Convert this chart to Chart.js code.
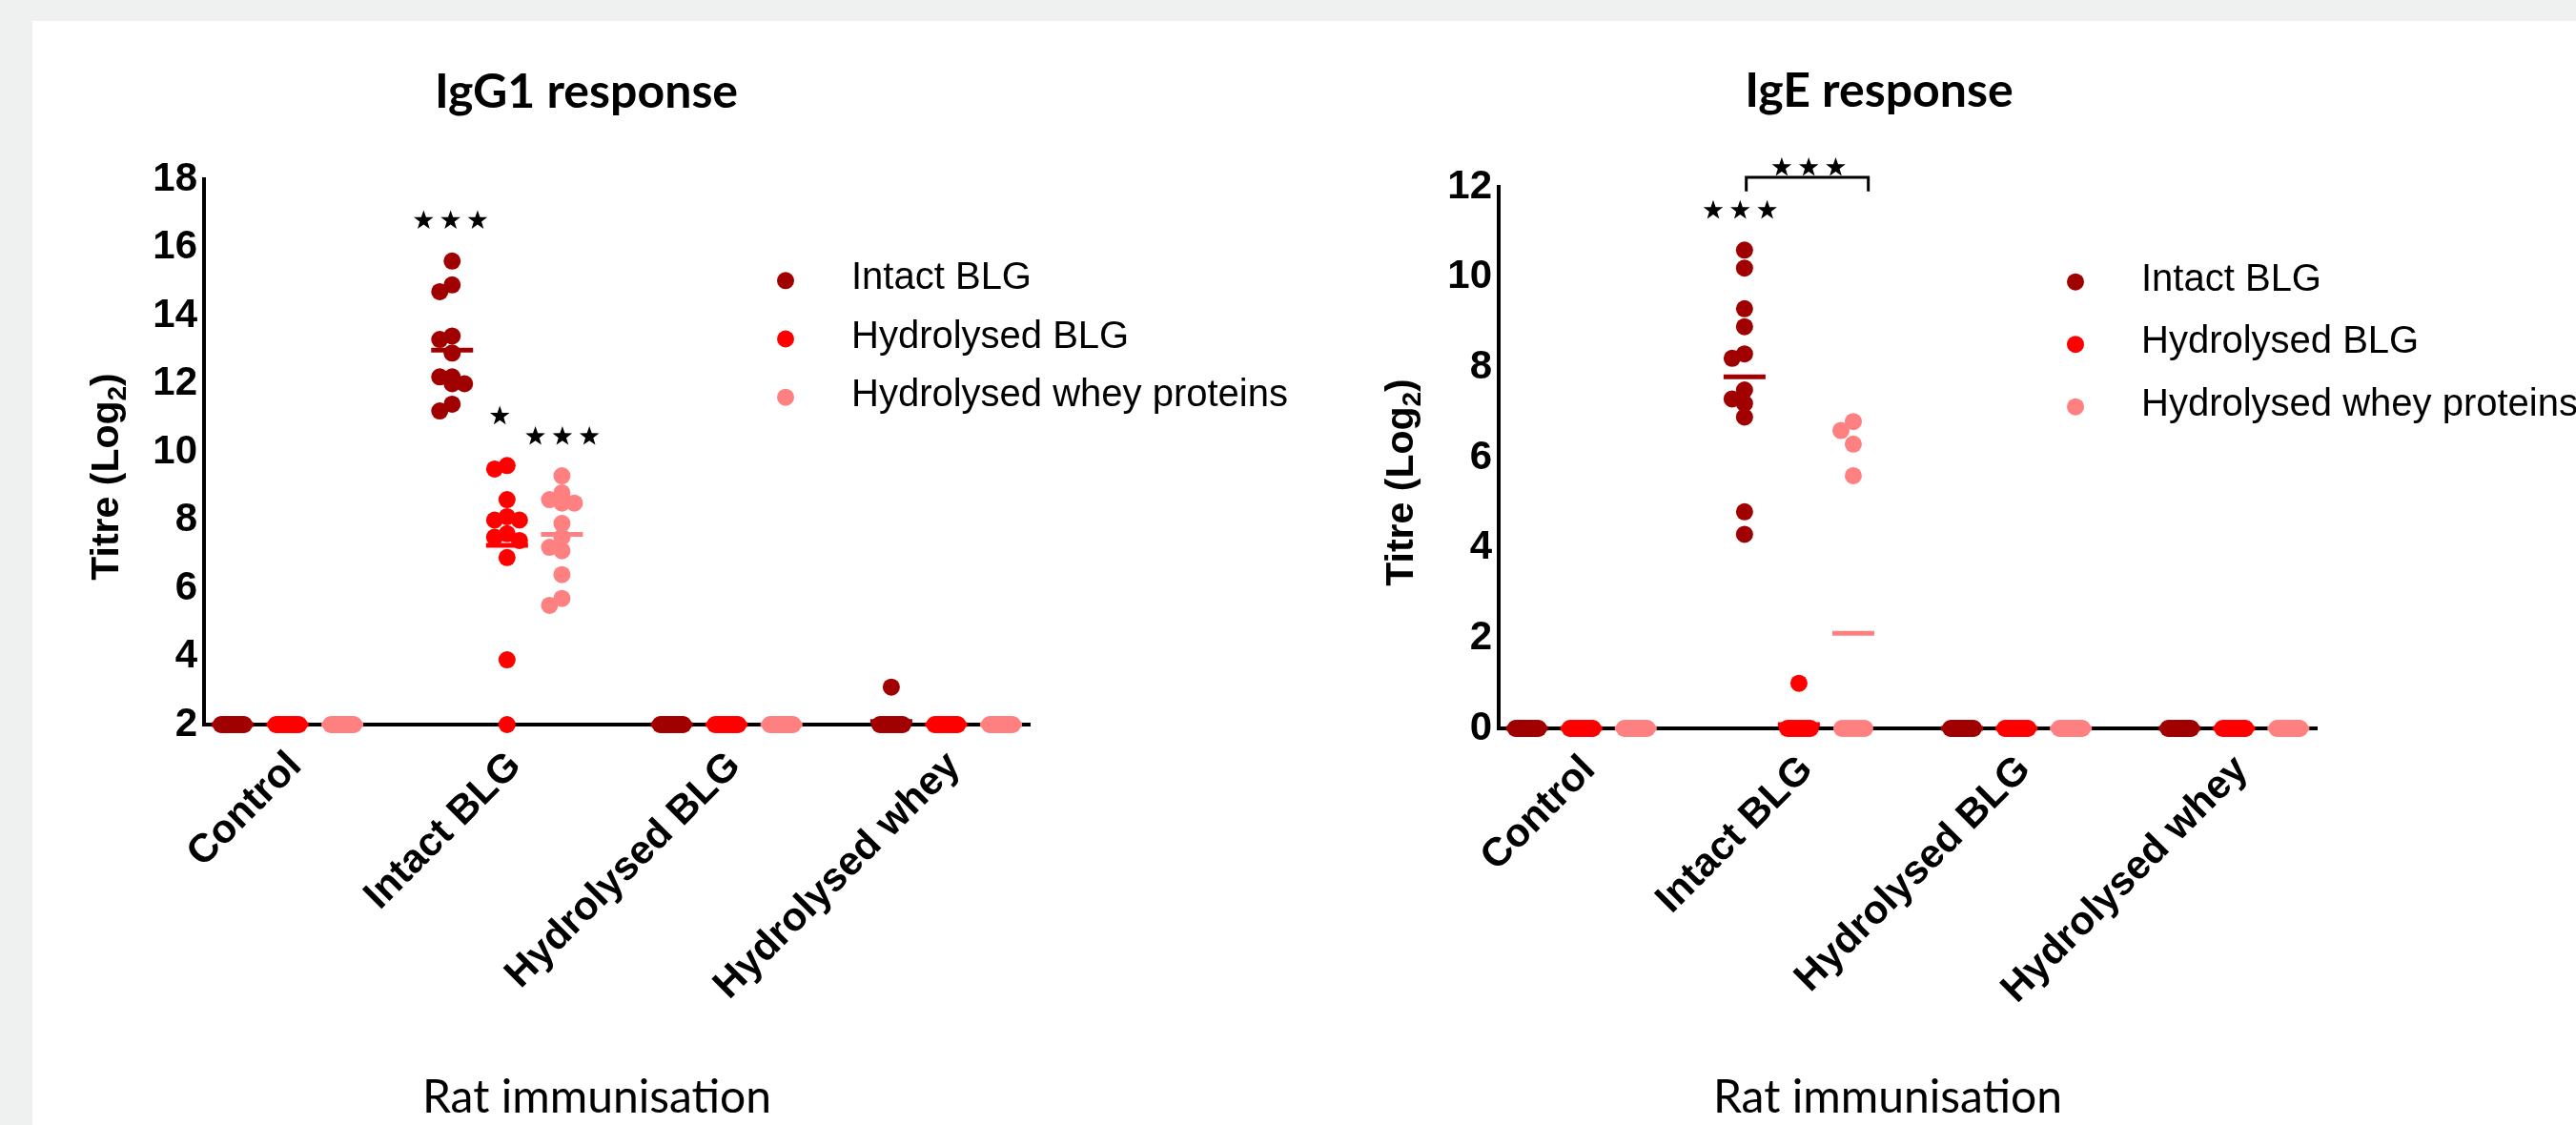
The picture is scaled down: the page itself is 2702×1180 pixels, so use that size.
<!DOCTYPE html>
<html>
<head>
<meta charset="utf-8">
<script src="https://cdn.jsdelivr.net/npm/chart.js@4.4.0/dist/chart.umd.min.js"></script>
<style>
  html, body { margin: 0; padding: 0; background: #eff0f0; }
  #panel { position: absolute; left: 34px; top: 22px; width: 2668px; height: 1158px; background: #fff; }
  canvas { position: absolute; top: 22px; }
  #igg1 { left: 34px; }
  #ige { left: 1380px; }
</style>
</head>
<body>
<div id="panel"></div>
<canvas id="igg1" width="1346" height="1158"></canvas>
<canvas id="ige" width="1322" height="1158"></canvas>
<script>
// rat immunisation groups (x axis) and the antigen each titre was measured against
const immunisations = ['Control', 'Intact BLG', 'Hydrolysed BLG', 'Hydrolysed whey'];
const antigens = ['Intact BLG', 'Hydrolysed BLG', 'Hydrolysed whey proteins'];
const colours = ['#a00000', '#ff0000', '#ff8080'];

// IgG1 titres (log2), 12 rats per group, one list per immunisation group
const igg1Intact = [
  [2, 2, 2, 2, 2, 2, 2, 2, 2, 2, 2, 2],
  [15.6, 14.9, 14.7, 13.4, 13.3, 12.9, 12.2, 12.2, 12.0, 12.0, 11.4, 11.2],
  [2, 2, 2, 2, 2, 2, 2, 2, 2, 2, 2, 2],
  [3.1, 2, 2, 2, 2, 2, 2, 2, 2, 2, 2, 2]
];
const igg1HydBLG = [
  [2, 2, 2, 2, 2, 2, 2, 2, 2, 2, 2, 2],
  [9.6, 9.5, 8.6, 8.1, 8.0, 8.0, 7.6, 7.5, 7.4, 6.9, 3.9, 2],
  [2, 2, 2, 2, 2, 2, 2, 2, 2, 2, 2, 2],
  [2, 2, 2, 2, 2, 2, 2, 2, 2, 2, 2, 2]
];
const igg1HydWhey = [
  [2, 2, 2, 2, 2, 2, 2, 2, 2, 2, 2, 2],
  [9.3, 8.8, 8.6, 8.5, 8.5, 7.9, 7.5, 7.2, 7.1, 6.4, 5.7, 5.5],
  [2, 2, 2, 2, 2, 2, 2, 2, 2, 2, 2, 2],
  [2, 2, 2, 2, 2, 2, 2, 2, 2, 2, 2, 2]
];

// IgE titres (log2)
const igeIntact = [
  [0, 0, 0, 0, 0, 0, 0, 0, 0, 0, 0, 0],
  [10.6, 10.2, 9.3, 8.9, 8.3, 8.2, 7.5, 7.3, 7.2, 6.9, 4.8, 4.3],
  [0, 0, 0, 0, 0, 0, 0, 0, 0, 0, 0, 0],
  [0, 0, 0, 0, 0, 0, 0, 0, 0, 0, 0, 0]
];
const igeHydBLG = [
  [0, 0, 0, 0, 0, 0, 0, 0, 0, 0, 0, 0],
  [1.0, 0, 0, 0, 0, 0, 0, 0, 0, 0, 0, 0],
  [0, 0, 0, 0, 0, 0, 0, 0, 0, 0, 0, 0],
  [0, 0, 0, 0, 0, 0, 0, 0, 0, 0, 0, 0]
];
const igeHydWhey = [
  [0, 0, 0, 0, 0, 0, 0, 0, 0, 0, 0, 0],
  [6.8, 6.6, 6.3, 5.6, 0, 0, 0, 0, 0, 0, 0, 0],
  [0, 0, 0, 0, 0, 0, 0, 0, 0, 0, 0, 0],
  [0, 0, 0, 0, 0, 0, 0, 0, 0, 0, 0, 0]
];

const igg1Ticks = [2, 4, 6, 8, 10, 12, 14, 16, 18];
const igeTicks = [0, 2, 4, 6, 8, 10, 12];

// significance marks, in data units
const igg1Stars = [{ x: 0.743, y: 16.82, n: 3 }, { x: 0.967, y: 11.08, n: 1 }, { x: 1.252, y: 10.48, n: 3 }];
const igeStars = [{ x: 0.73, y: 11.5, n: 3 }, { x: 1.045, y: 12.45, n: 3 }];
const igeBracket = { x1: 0.758, x2: 1.319, y: 12.21, leg: 11.9 };

const seriesShift = [-0.25, 0, 0.25];
const labelShift = 0.036;

const mean = a => a.reduce((s, v) => s + v, 0) / a.length;

// column-scatter spread: tied values fan out, close values step sideways
function spreadPx(vals, toPx) {
  const counts = {};
  vals.forEach(v => { counts[v] = (counts[v] || 0) + 1; });
  const seen = {}, out = [], placed = [];
  const order = vals.map((v, i) => i).sort((a, b) => vals[b] - vals[a]);
  for (const i of order) {
    const v = vals[i];
    if (counts[v] >= 3) {
      const k = seen[v] || 0;
      seen[v] = k + 1;
      out[i] = -12 + 24 * k / (counts[v] - 1);
      continue;
    }
    const py = toPx(v);
    let best = 0, bestD = -1;
    for (const c of [0, -13, 13]) {
      const d = Math.min(Infinity, ...placed.map(p => Math.hypot(p.x - c, p.y - py)));
      if (d >= 12) { best = c; break; }
      if (d > bestD) { bestD = d; best = c; }
    }
    out[i] = best;
    placed.push({ x: best, y: py });
  }
  return out;
}

function star(ctx, cx, cy, r) {
  ctx.beginPath();
  for (let k = 0; k < 10; k++) {
    const rr = k % 2 ? r * 0.4 : r;
    const a = -Math.PI / 2 + k * Math.PI / 5;
    ctx.lineTo(cx + rr * Math.cos(a), cy + rr * Math.sin(a));
  }
  ctx.closePath();
  ctx.fill();
}

const decor = {
  id: 'decor',
  afterDraw(chart, args, o) {
    const { ctx } = chart;
    const xs = chart.scales.x, ys = chart.scales.y;
    ctx.save();
    ctx.fillStyle = '#000';
    ctx.strokeStyle = '#000';

    ctx.textAlign = 'center';
    ctx.textBaseline = 'alphabetic';
    ctx.font = 'bold 50px Lato';
    ctx.fillText(o.title, o.titleX, o.titleY);
    ctx.font = '48px Lato';
    ctx.fillText('Rat immunisation', o.xTitleX, o.xTitleY);

    // y title with subscript
    ctx.save();
    ctx.translate(o.yTitleX, o.yTitleY);
    ctx.rotate(-Math.PI / 2);
    const big = 'bold 41px "Liberation Sans"', small = 'bold 28px "Liberation Sans"';
    ctx.font = big;
    const w1 = ctx.measureText('Titre (Log').width, w3 = ctx.measureText(')').width;
    ctx.font = small;
    const w2 = ctx.measureText('2').width;
    const x0 = -(w1 + w2 + w3) / 2;
    ctx.textAlign = 'left';
    ctx.font = big; ctx.fillText('Titre (Log', x0, 14);
    ctx.font = small; ctx.fillText('2', x0 + w1, 22);
    ctx.font = big; ctx.fillText(')', x0 + w1 + w2, 14);
    ctx.restore();

    // legend
    ctx.textAlign = 'left';
    ctx.font = '40px "Liberation Sans"';
    antigens.forEach((name, i) => {
      const y = o.legendY + i * o.legendGap;
      ctx.fillStyle = colours[i];
      ctx.beginPath();
      ctx.arc(o.legendX, y, 9, 0, Math.PI * 2);
      ctx.fill();
      ctx.fillStyle = '#000';
      ctx.fillText(name, o.legendX + 69, y + 9);
    });

    // significance stars
    ctx.fillStyle = '#000';
    o.stars.forEach(s => {
      const cx = xs.getPixelForValue(s.x), cy = ys.getPixelForValue(s.y);
      for (let k = 0; k < s.n; k++) {
        star(ctx, cx + (k - (s.n - 1) / 2) * 28.3, cy + 1, 10.8);
      }
    });

    if (o.bracket) {
      const b = o.bracket;
      const x1 = xs.getPixelForValue(b.x1), x2 = xs.getPixelForValue(b.x2);
      const y1 = ys.getPixelForValue(b.y), y2 = ys.getPixelForValue(b.leg);
      ctx.lineWidth = 3;
      ctx.beginPath();
      ctx.moveTo(x1, y2); ctx.lineTo(x1, y1); ctx.lineTo(x2, y1); ctx.lineTo(x2, y2);
      ctx.stroke();
    }
    ctx.restore();
  }
};

function makeChart(id, table, cfg) {
  const datasets = [];
  antigens.forEach((name, s) => {
    datasets.push({
      label: name,
      data: table[s].flatMap((vals, g) => vals.map(v => ({ x: g + seriesShift[s], y: v }))),
      backgroundColor: colours[s],
      pointRadius: 9,
      pointBorderWidth: 0,
      clip: false,
      order: 1
    });
  });
  antigens.forEach((name, s) => {
    datasets.push({
      label: name + ' mean',
      data: table[s].map((vals, g) => ({ x: g + seriesShift[s], y: mean(vals) })),
      pointStyle: 'line',
      pointRadius: 22,
      pointBorderWidth: 5,
      borderColor: colours[s],
      clip: false,
      order: 2
    });
  });

  const chart = new Chart(document.getElementById(id), {
    type: 'scatter',
    data: { datasets },
    options: {
      responsive: false,
      animation: false,
      events: [],
      layout: { padding: { left: 0, top: cfg.top, right: cfg.right, bottom: 0 } },
      plugins: {
        legend: { display: false },
        tooltip: { enabled: false },
        decor: cfg.decor
      },
      scales: {
        x: {
          type: 'linear',
          min: -0.38,
          max: 3.38,
          grid: { display: false, drawTicks: false },
          border: { color: '#000', width: 4 },
          afterBuildTicks: ax => { ax.ticks = immunisations.map((n, i) => ({ value: i + labelShift })); },
          afterFit: ax => { ax.height = cfg.xHeight; },
          ticks: {
            autoSkip: false,
            minRotation: 45,
            maxRotation: 45,
            padding: 19,
            color: '#000',
            font: { family: 'Liberation Sans', size: 42, weight: 'bold' },
            callback: v => immunisations[Math.round(v - labelShift)]
          }
        },
        y: {
          min: cfg.ticks[0],
          max: cfg.ticks[cfg.ticks.length - 1],
          grid: { display: false, drawTicks: false },
          border: { color: '#000', width: 4 },
          afterBuildTicks: ax => { ax.ticks = cfg.ticks.map(v => ({ value: v })); },
          afterFit: ax => { ax.width = cfg.yWidth; },
          ticks: { padding: 7, color: '#000', font: { family: 'Liberation Sans', size: 42, weight: 'bold' } }
        }
      }
    },
    plugins: [decor]
  });

  // second pass: spread the dots sideways now the scales are known
  const xs = chart.scales.x, ys = chart.scales.y;
  const unit = xs.getPixelForValue(1) - xs.getPixelForValue(0);
  antigens.forEach((name, s) => {
    const pts = [];
    table[s].forEach((vals, g) => {
      const offs = spreadPx(vals, v => ys.getPixelForValue(v));
      vals.forEach((v, k) => pts.push({ x: g + seriesShift[s] + offs[k] / unit, y: v }));
    });
    chart.data.datasets[s].data = pts;
  });
  chart.update();
  return chart;
}

makeChart('igg1', [igg1Intact, igg1HydBLG, igg1HydWhey], {
  top: 166, right: 300, yWidth: 180, xHeight: 420, ticks: igg1Ticks,
  decor: {
    title: 'IgG1 response', titleX: 581, titleY: 91,
    xTitleX: 592, xTitleY: 1145,
    yTitleX: 76, yTitleY: 478,
    legendX: 790, legendY: 272.3, legendGap: 61.2,
    stars: igg1Stars
  }
});

makeChart('ige', [igeIntact, igeHydBLG, igeHydWhey], {
  top: 174, right: 272, yWidth: 192, xHeight: 416, ticks: igeTicks,
  decor: {
    title: 'IgE response', titleX: 591, titleY: 90,
    xTitleX: 600, xTitleY: 1145,
    yTitleX: 88, yTitleY: 484,
    legendX: 797, legendY: 273.7, legendGap: 65.5,
    stars: igeStars, bracket: igeBracket
  }
});
</script>
</body>
</html>
